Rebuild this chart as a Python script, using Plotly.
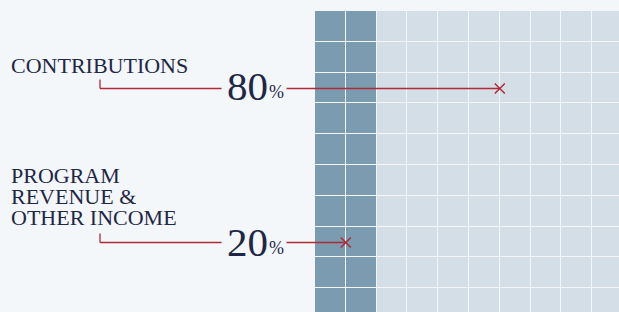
import plotly.graph_objects as go

# ---- data ----
categories = ["CONTRIBUTIONS", "PROGRAM REVENUE & OTHER INCOME"]
label_lines = [["CONTRIBUTIONS"], ["PROGRAM", "REVENUE &", "OTHER INCOME"]]
shares = [80, 20]          # percent
grid_rows = 10
grid_cols = 10

# ---- style / layout constants ----
W, H = 619, 312
GX, GY, P = 315, 11, 30.8   # grid origin (px) and cell pitch (px)
BG = "#f3f7fa"
DARK = "#7a9bb0"
LIGHT = "#d3dee6"
RED = "#b02a37"
TEXT = "#1f2746"
FONT = "Liberation Serif"

def dx(px):
    return (px - GX) / P - 0.5

def dy(py):
    return (py - GY) / P - 0.5

# waffle: program revenue share fills the leftmost columns
dark_cols = round(shares[1] / 100 * grid_cols)
z = [[1 if c < dark_cols else 0 for c in range(grid_cols)] for r in range(grid_rows)]

fig = go.Figure()
fig.add_trace(go.Heatmap(
    z=z, x=list(range(grid_cols)), y=list(range(grid_rows)),
    colorscale=[[0, LIGHT], [1, DARK]], showscale=False,
    xgap=1, ygap=1, hoverinfo="skip",
))

# pointer targets (cell coordinates) and label placement (px)
targets = [(5.5, 2), (0.5, 7)]
line_y_px = [88.5, 242.5]
tick_top_px = [79.5, 233.5]
label_mid_px = [[64.5], [175, 195.5, 217]]
num_mid_px = [86, 242]

shapes = []
annotations = []
for i, cat in enumerate(categories):
    ly = dy(line_y_px[i])
    shapes.append(dict(type="line", xref="x", yref="y",
                       x0=dx(100), x1=dx(100), y0=dy(tick_top_px[i]), y1=ly,
                       line=dict(color=RED, width=1.3)))
    shapes.append(dict(type="line", xref="x", yref="y",
                       x0=dx(100), x1=dx(221.5), y0=ly, y1=ly,
                       line=dict(color=RED, width=1.3)))
    shapes.append(dict(type="line", xref="x", yref="y",
                       x0=dx(286.5), x1=targets[i][0], y0=ly, y1=ly,
                       line=dict(color=RED, width=1.3)))
    for j, line in enumerate(label_lines[i]):
        annotations.append(dict(xref="x", yref="y", x=dx(10), y=dy(label_mid_px[i][j]),
                                text=line, showarrow=False, xanchor="left", yanchor="middle",
                                height=20, valign="middle", borderpad=0,
                                font=dict(family=FONT, size=22, color=TEXT)))
    annotations.append(dict(xref="x", yref="y", x=dx(269), y=dy(num_mid_px[i]),
                            text=str(shares[i]), showarrow=False, xanchor="right", yanchor="middle",
                            borderpad=0,
                            font=dict(family=FONT, size=41, color=TEXT)))
    annotations.append(dict(xref="x", yref="y", x=dx(268), y=dy(num_mid_px[i] + 6),
                            text="%", showarrow=False, xanchor="left", yanchor="middle",
                            borderpad=0,
                            font=dict(family=FONT, size=18, color=TEXT)))

fig.add_trace(go.Scatter(
    x=[t[0] for t in targets], y=[dy(v) for v in line_y_px], mode="markers",
    marker=dict(symbol="x-thin", size=10, line=dict(color=RED, width=1.5)),
    hoverinfo="skip", cliponaxis=False,
))

fig.update_layout(
    width=W, height=H, margin=dict(l=0, r=0, t=0, b=0),
    paper_bgcolor=BG, plot_bgcolor=BG, showlegend=False,
    xaxis=dict(range=[dx(0), dx(W)], visible=False, fixedrange=True),
    yaxis=dict(range=[dy(H), dy(0)], visible=False, fixedrange=True),
    shapes=shapes, annotations=annotations,
)
fig.write_html("out.html", config={"displayModeBar": False},
               post_script="document.body.style.margin='0';document.body.style.background='%s';" % BG)
